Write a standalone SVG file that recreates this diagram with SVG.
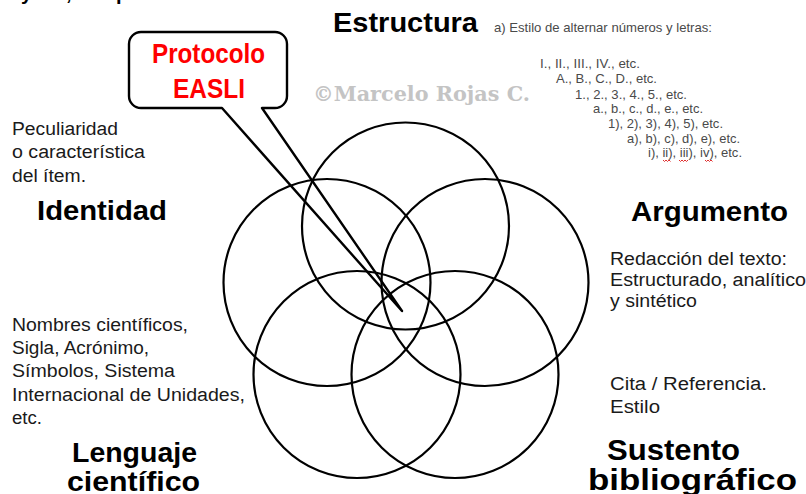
<svg xmlns="http://www.w3.org/2000/svg" width="806" height="494" viewBox="0 0 806 494">
<style>
.bg{fill:#ffffff}
.ring{fill:none;stroke:#000;stroke-width:2.2}
.head{font-family:"Liberation Sans",Arial,sans-serif;font-weight:bold;fill:#000}
.body{font-family:"Liberation Sans",Arial,sans-serif;font-size:18px;fill:#1a1a1a}
.list{font-family:"Liberation Sans",Arial,sans-serif;font-size:13px;fill:#4a4a4a}
.callout{fill:#fff;stroke:#000;stroke-width:2.4;stroke-linejoin:round}
.red{font-family:"Liberation Sans",Arial,sans-serif;font-weight:bold;font-size:28px;fill:#ff0000}
.wm{font-family:"DejaVu Serif","Liberation Serif",serif;font-weight:bold;font-size:20px;fill:#c4c4c4}
.squig{fill:none;stroke:#e03030;stroke-width:1}
</style>
<rect class="bg" x="0" y="0" width="806" height="494"/>

<g id="top-fragment">
<text class="head" font-size="20" y="0"><tspan x="21">y</tspan><tspan x="66">,</tspan><tspan x="116">p</tspan></text>
</g>

<g id="watermark">
<text class="wm" x="313" y="101" textLength="217" lengthAdjust="spacingAndGlyphs">©Marcelo Rojas C.</text>
</g>

<g id="callout">
<path class="callout" d="M222,108 L402,311 L262,108 L275,108 A12,12 0 0 0 287,96 L287,44 A12,12 0 0 0 275,32 L141,32 A12,12 0 0 0 129,44 L129,96 A12,12 0 0 0 141,108 Z"/>
<text class="red" x="152" y="63" textLength="113" lengthAdjust="spacingAndGlyphs">Protocolo</text>
<text class="red" x="173" y="98" textLength="72" lengthAdjust="spacingAndGlyphs">EASLI</text>
</g>

<g id="estructura">
<circle class="ring" cx="405.5" cy="226" r="103.5"/>
<text class="head" font-size="28" x="333" y="32" textLength="145" lengthAdjust="spacingAndGlyphs">Estructura</text>
<text class="list" x="494" y="32" textLength="218" lengthAdjust="spacingAndGlyphs" font-size="12">a) Estilo de alternar números y letras:</text>
<text class="list" x="540" y="68" textLength="100" lengthAdjust="spacingAndGlyphs">I., II., III., IV., etc.</text>
<text class="list" x="556" y="83" textLength="101" lengthAdjust="spacingAndGlyphs">A., B., C., D., etc.</text>
<text class="list" x="575" y="99" textLength="112" lengthAdjust="spacingAndGlyphs">1., 2., 3., 4., 5., etc.</text>
<text class="list" x="593" y="113" textLength="110" lengthAdjust="spacingAndGlyphs">a., b., c., d., e., etc.</text>
<text class="list" x="608" y="128" textLength="115" lengthAdjust="spacingAndGlyphs">1), 2), 3), 4), 5), etc.</text>
<text class="list" x="627" y="143" textLength="113" lengthAdjust="spacingAndGlyphs">a), b), c), d), e), etc.</text>
<text class="list" x="648" y="157" textLength="94" lengthAdjust="spacingAndGlyphs">i), ii), iii), iv), etc.</text>
<path class="squig" d="M663,160 l1.5,1.5 l1.5,-1.5 l1.5,1.5 l1.5,-1.5 l1.5,1.5"/>
<path class="squig" d="M679,160 l1.5,1.5 l1.5,-1.5 l1.5,1.5 l1.5,-1.5 l1.5,1.5 l1.5,-1.5"/>
<path class="squig" d="M705,160 l1.5,1.5 l1.5,-1.5 l1.5,1.5 l1.5,-1.5 l1.5,1.5"/>
</g>

<g id="identidad">
<circle class="ring" cx="327" cy="282.5" r="103.5"/>
<text class="body" x="12" y="135" textLength="106" lengthAdjust="spacingAndGlyphs">Peculiaridad</text>
<text class="body" x="12" y="158" textLength="133" lengthAdjust="spacingAndGlyphs">o característica</text>
<text class="body" x="12" y="182" textLength="74" lengthAdjust="spacingAndGlyphs">del ítem.</text>
<text class="head" font-size="28" x="37" y="220" textLength="130" lengthAdjust="spacingAndGlyphs">Identidad</text>
</g>

<g id="argumento">
<circle class="ring" cx="485" cy="282.5" r="103.5"/>
<text class="head" font-size="28" x="631" y="221" textLength="157" lengthAdjust="spacingAndGlyphs">Argumento</text>
<text class="body" x="610" y="265" textLength="177" lengthAdjust="spacingAndGlyphs">Redacción del texto:</text>
<text class="body" x="610" y="286" textLength="196" lengthAdjust="spacingAndGlyphs">Estructurado, analítico</text>
<text class="body" x="610" y="307" textLength="87" lengthAdjust="spacingAndGlyphs">y sintético</text>
</g>

<g id="lenguaje">
<circle class="ring" cx="357" cy="374.5" r="103.5"/>
<text class="body" x="12" y="331" textLength="176" lengthAdjust="spacingAndGlyphs">Nombres científicos,</text>
<text class="body" x="12" y="354" textLength="137" lengthAdjust="spacingAndGlyphs">Sigla, Acrónimo,</text>
<text class="body" x="12" y="377" textLength="163" lengthAdjust="spacingAndGlyphs">Símbolos, Sistema</text>
<text class="body" x="12" y="401" textLength="233" lengthAdjust="spacingAndGlyphs">Internacional de Unidades,</text>
<text class="body" x="12" y="424" textLength="30" lengthAdjust="spacingAndGlyphs">etc.</text>
<text class="head" font-size="28" x="72" y="462" textLength="125" lengthAdjust="spacingAndGlyphs">Lenguaje</text>
<text class="head" font-size="28" x="67" y="491" textLength="133" lengthAdjust="spacingAndGlyphs">científico</text>
</g>

<g id="sustento">
<circle class="ring" cx="455" cy="374.5" r="103.5"/>
<text class="body" x="610" y="390" textLength="157" lengthAdjust="spacingAndGlyphs">Cita / Referencia.</text>
<text class="body" x="610" y="413" textLength="50" lengthAdjust="spacingAndGlyphs">Estilo</text>
<text class="head" font-size="29" x="607" y="460" textLength="133" lengthAdjust="spacingAndGlyphs">Sustento</text>
<text class="head" font-size="29" x="588" y="490" textLength="209" lengthAdjust="spacingAndGlyphs">bibliográfico</text>
</g>

<g id="connectors"></g>
</svg>
